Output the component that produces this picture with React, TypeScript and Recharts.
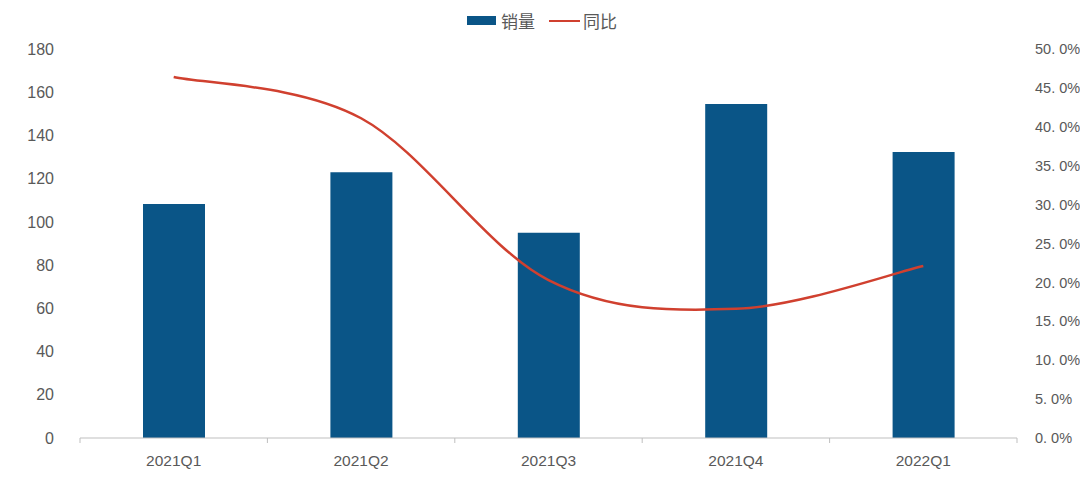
import React from 'react'
import { ComposedChart, Bar, Line, XAxis, YAxis } from 'recharts'

// 季度销量与同比
const quarters = ['2021Q1', '2021Q2', '2021Q3', '2021Q4', '2022Q1']
const sales = [108.3, 123, 95, 154.5, 132.3]
const yoy = [46.4, 41.1, 20.3, 16.6, 22.1]
const leftTicks = [0, 20, 40, 60, 80, 100, 120, 140, 160, 180]
const rightTicks = [0, 5, 10, 15, 20, 25, 30, 35, 40, 45, 50]

const data = quarters.map((q, i) => ({ q, sales: sales[i], yoy: yoy[i] }))

const BAR = '#0a5587'
const LINE = '#d0402f'
const TEXT = '#595959'
const FONT = '"Liberation Sans", "Noto Sans CJK SC", sans-serif'

// Excel 风格平滑线（Catmull-Rom）
function smoothCurve(context: any) {
  let pts: number[][] = []
  return {
    areaStart() {},
    areaEnd() {},
    lineStart() {
      pts = []
    },
    lineEnd() {
      if (!pts.length) return
      context.moveTo(pts[0][0], pts[0][1])
      for (let i = 0; i < pts.length - 1; i++) {
        const p0 = pts[i - 1] || pts[i]
        const p1 = pts[i]
        const p2 = pts[i + 1]
        const p3 = pts[i + 2] || p2
        context.bezierCurveTo(
          p1[0] + (p2[0] - p0[0]) / 6,
          p1[1] + (p2[1] - p0[1]) / 6,
          p2[0] - (p3[0] - p1[0]) / 6,
          p2[1] - (p3[1] - p1[1]) / 6,
          p2[0],
          p2[1]
        )
      }
    },
    point(x: number, y: number) {
      pts.push([x, y])
    },
  }
}

const pct = (v: number) => `${v.toFixed(1).replace('.', '. ')}%`

function XTick(props: any) {
  const { x, y, payload, index } = props
  const band = 937 / quarters.length
  return (
    <g>
      <line x1={x - band / 2} y1={y - 8} x2={x - band / 2} y2={y - 3} stroke="#bfbfbf" />
      {index === quarters.length - 1 && (
        <line x1={x + band / 2} y1={y - 8} x2={x + band / 2} y2={y - 3} stroke="#bfbfbf" />
      )}
      <text x={x} y={y + 20} textAnchor="middle" fill={TEXT} fontSize={15.5} fontFamily={FONT}>
        {payload.value}
      </text>
    </g>
  )
}

function TopLegend() {
  return (
    <div
      style={{
        position: 'absolute',
        top: 8,
        left: 0,
        width: 1080,
        display: 'flex',
        justifyContent: 'center',
        alignItems: 'center',
        fontFamily: FONT,
        fontSize: 17,
        color: TEXT,
        paddingLeft: 4,
        boxSizing: 'border-box',
      }}
    >
      <span style={{ display: 'inline-block', width: 29, height: 9, background: BAR, marginRight: 5 }} />
      <span style={{ marginRight: 14 }}>销量</span>
      <span style={{ display: 'inline-block', width: 31, height: 2, background: LINE, marginRight: 3 }} />
      <span>同比</span>
    </div>
  )
}

export default function App() {
  return (
    <div style={{ position: 'absolute', left: 0, top: 0, width: 1080, height: 480, background: '#fff' }}>
      <ComposedChart width={1080} height={480} data={data} margin={{ top: 49, right: 0, left: 0, bottom: 12 }}>
        <XAxis
          dataKey="q"
          height={30}
          axisLine={{ stroke: '#bfbfbf' }}
          tickLine={false}
          tick={<XTick />}
          interval={0}
        />
        <YAxis
          yAxisId="left"
          width={80}
          domain={[0, 180]}
          ticks={leftTicks}
          axisLine={false}
          tickLine={false}
          tickMargin={20}
          tick={{ fill: TEXT, fontSize: 16, fontFamily: FONT }}
        />
        <YAxis
          yAxisId="right"
          orientation="right"
          width={63}
          domain={[0, 50]}
          ticks={rightTicks}
          axisLine={false}
          tickLine={false}
          tickMargin={12}
          tickFormatter={pct}
          tick={{ fill: TEXT, fontSize: 14.5, fontFamily: FONT, textAnchor: 'start' }}
        />
        <Bar yAxisId="left" dataKey="sales" fill={BAR} barSize={62} isAnimationActive={false} />
        <Line
          yAxisId="right"
          dataKey="yoy"
          type={smoothCurve as any}
          stroke={LINE}
          strokeWidth={2.5}
          dot={false}
          isAnimationActive={false}
        />
      </ComposedChart>
      <TopLegend />
    </div>
  )
}
